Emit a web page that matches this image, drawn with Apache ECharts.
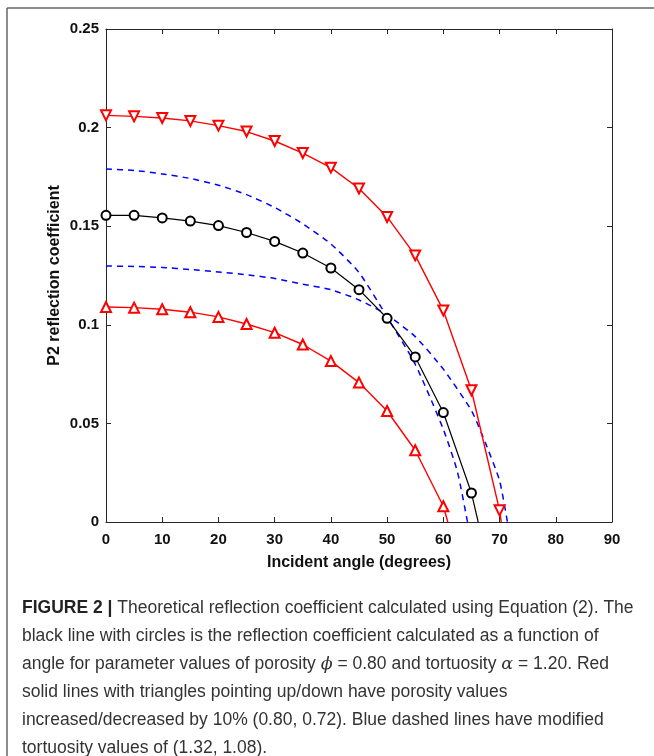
<!DOCTYPE html>
<html>
<head>
<meta charset="utf-8">
<script src="https://cdn.jsdelivr.net/npm/echarts@6/dist/echarts.min.js"></script>
<style>
  html, body { margin: 0; padding: 0; background: #fff; }
  #chart { width: 654px; height: 756px; }
</style>
</head>
<body>
<div id="chart"></div>
<script>
// incident angles (degrees) for the marked curves
var angles = [0, 5, 10, 15, 20, 25, 30, 35, 40, 45, 50, 55, 60, 65, 70];

// phi = 0.80, alpha = 1.20 (black, circles)
var baseVals = [0.1555, 0.1555, 0.1542, 0.1526, 0.1503, 0.1468, 0.1423, 0.1364, 0.1288, 0.1178, 0.1033, 0.0837, 0.0555, 0.0147];
var baseEnd = [66.2, 0];
// porosity decreased (red, triangles down)
var redDownVals = [0.2062, 0.2057, 0.2049, 0.2034, 0.2010, 0.1980, 0.1932, 0.1871, 0.1797, 0.1691, 0.1547, 0.1352, 0.1073, 0.0668, 0.0059];
var redDownEnd = [70.3, 0];
// porosity increased (red, triangles up)
var redUpVals = [0.1090, 0.1087, 0.1079, 0.1064, 0.1040, 0.1004, 0.0960, 0.0900, 0.0816, 0.0707, 0.0563, 0.0364, 0.0080];
var redUpEnd = [60.8, 0];

// modified tortuosity (blue dashed)
var blueHiAngles = [0, 5, 10, 15, 20, 25, 30, 35, 40, 45, 50, 55, 60, 62.5, 64.3];
var blueHiVals = [0.1790, 0.1783, 0.1765, 0.1742, 0.1708, 0.1660, 0.1595, 0.1512, 0.1410, 0.1265, 0.1040, 0.0800, 0.0470, 0.0255, 0];
var blueLoAngles = [0, 5, 10, 15, 20, 25, 30, 35, 40, 45, 50, 55, 60, 65, 67.5, 70, 71.4];
var blueLoVals = [0.1298, 0.1296, 0.1291, 0.1280, 0.1268, 0.1254, 0.1235, 0.1206, 0.1178, 0.1126, 0.1050, 0.0940, 0.0775, 0.0565, 0.0400, 0.0210, 0];

var xTicks = { min: 0, max: 90, interval: 10 };
var yTicks = { min: 0, max: 0.25, interval: 0.05 };

var captionLines = [
  '{b|FIGURE 2 |} Theoretical reflection coefficient calculated using Equation (2). The',
  'black line with circles is the reflection coefficient calculated as a function of',
  'angle for parameter values of porosity {i|ϕ} = 0.80 and tortuosity {i|α} = 1.20. Red',
  'solid lines with triangles pointing up/down have porosity values',
  'increased/decreased by 10% (0.80, 0.72). Blue dashed lines have modified',
  'tortuosity values of (1.32, 1.08).'
];

function pairs(xs, ys) {
  var out = [];
  for (var i = 0; i < ys.length; i++) out.push([xs[i], ys[i]]);
  return out;
}
// marked points plus the unmarked end point where the curve meets zero
function withEnd(xs, ys, end) {
  var d = pairs(xs, ys);
  d.push({ value: end, symbol: 'none' });
  return d;
}

var axisColor = '#262626';
var font = '"Liberation Sans", Arial, sans-serif';

var chart = echarts.init(document.getElementById('chart'));

var graphics = [
  // figure frame (top and left edges)
  { type: 'line', shape: { x1: 7, y1: 8, x2: 654, y2: 8 }, style: { stroke: '#666', lineWidth: 1.5 } },
  { type: 'line', shape: { x1: 7, y1: 8, x2: 7, y2: 756 }, style: { stroke: '#666', lineWidth: 1.5 } }
];
captionLines.forEach(function (txt, i) {
  graphics.push({
    type: 'text',
    left: 22,
    top: 599 + i * 28,
    style: {
      text: txt,
      fill: '#333',
      font: '17.5px ' + font,
      rich: {
        b: { fontWeight: 'bold', fontSize: 17.5, fontFamily: font, fill: '#222' },
        i: { fontStyle: 'italic', fontSize: 17.5, fontFamily: '"DejaVu Serif", serif', fill: '#333' }
      }
    }
  });
});

function frameAxis(pos, ticks) {
  return {
    type: 'value', position: pos,
    min: ticks.min, max: ticks.max, interval: ticks.interval,
    axisLine: { onZero: false, lineStyle: { color: axisColor, width: 1 } },
    axisTick: { inside: true, length: 5, lineStyle: { color: axisColor } },
    axisLabel: { show: false },
    splitLine: { show: false }
  };
}

var option = {
  animation: false,
  backgroundColor: '#fff',
  grid: { left: 106, right: 42, top: 29, bottom: 234 },
  xAxis: [
    {
      type: 'value', position: 'bottom',
      min: xTicks.min, max: xTicks.max, interval: xTicks.interval,
      name: 'Incident angle (degrees)', nameLocation: 'middle', nameGap: 33,
      nameTextStyle: { color: '#111', fontWeight: 'bold', fontSize: 16, fontFamily: font },
      axisLine: { onZero: false, lineStyle: { color: axisColor, width: 1 } },
      axisTick: { inside: true, length: 5, lineStyle: { color: axisColor } },
      axisLabel: { color: '#111', fontWeight: 'bold', fontSize: 15, fontFamily: font, margin: 10 },
      splitLine: { show: false }
    },
    frameAxis('top', xTicks)
  ],
  yAxis: [
    {
      type: 'value', position: 'left',
      min: yTicks.min, max: yTicks.max, interval: yTicks.interval,
      name: 'P2 reflection coefficient', nameLocation: 'middle', nameGap: 43,
      nameMoveOverlap: false,
      nameTextStyle: { color: '#111', fontWeight: 'bold', fontSize: 16, fontFamily: font },
      axisLine: { onZero: false, lineStyle: { color: axisColor, width: 1 } },
      axisTick: { inside: true, length: 5, lineStyle: { color: axisColor } },
      axisLabel: { color: '#111', fontWeight: 'bold', fontSize: 15, fontFamily: font, margin: 7 },
      splitLine: { show: false }
    },
    frameAxis('right', yTicks)
  ],
  series: [
    {
      name: 'tortuosity high', type: 'line', smooth: 0.2,
      data: pairs(blueHiAngles, blueHiVals), showSymbol: false,
      lineStyle: { color: '#0000ff', width: 1.5, type: [6, 5] }
    },
    {
      name: 'tortuosity low', type: 'line', smooth: 0.2,
      data: pairs(blueLoAngles, blueLoVals), showSymbol: false,
      lineStyle: { color: '#0000ff', width: 1.5, type: [6, 5] }
    },
    {
      name: 'porosity down', type: 'line',
      data: withEnd(angles, redDownVals, redDownEnd),
      symbol: 'emptyTriangle', symbolSize: 10, symbolRotate: 180,
      lineStyle: { color: '#ff0000', width: 1.4 },
      itemStyle: { color: '#ff0000', borderColor: '#ff0000', borderWidth: 1 }
    },
    {
      name: 'porosity up', type: 'line',
      data: withEnd(angles, redUpVals, redUpEnd),
      symbol: 'emptyTriangle', symbolSize: 10,
      lineStyle: { color: '#ff0000', width: 1.4 },
      itemStyle: { color: '#ff0000', borderColor: '#ff0000', borderWidth: 1 }
    },
    {
      name: 'base', type: 'line',
      data: withEnd(angles, baseVals, baseEnd),
      symbol: 'emptyCircle', symbolSize: 9,
      lineStyle: { color: '#000', width: 1.2 },
      itemStyle: { color: '#000', borderColor: '#000', borderWidth: 1 }
    }
  ],
  graphic: graphics
};
chart.setOption(option);
</script>
</body>
</html>
